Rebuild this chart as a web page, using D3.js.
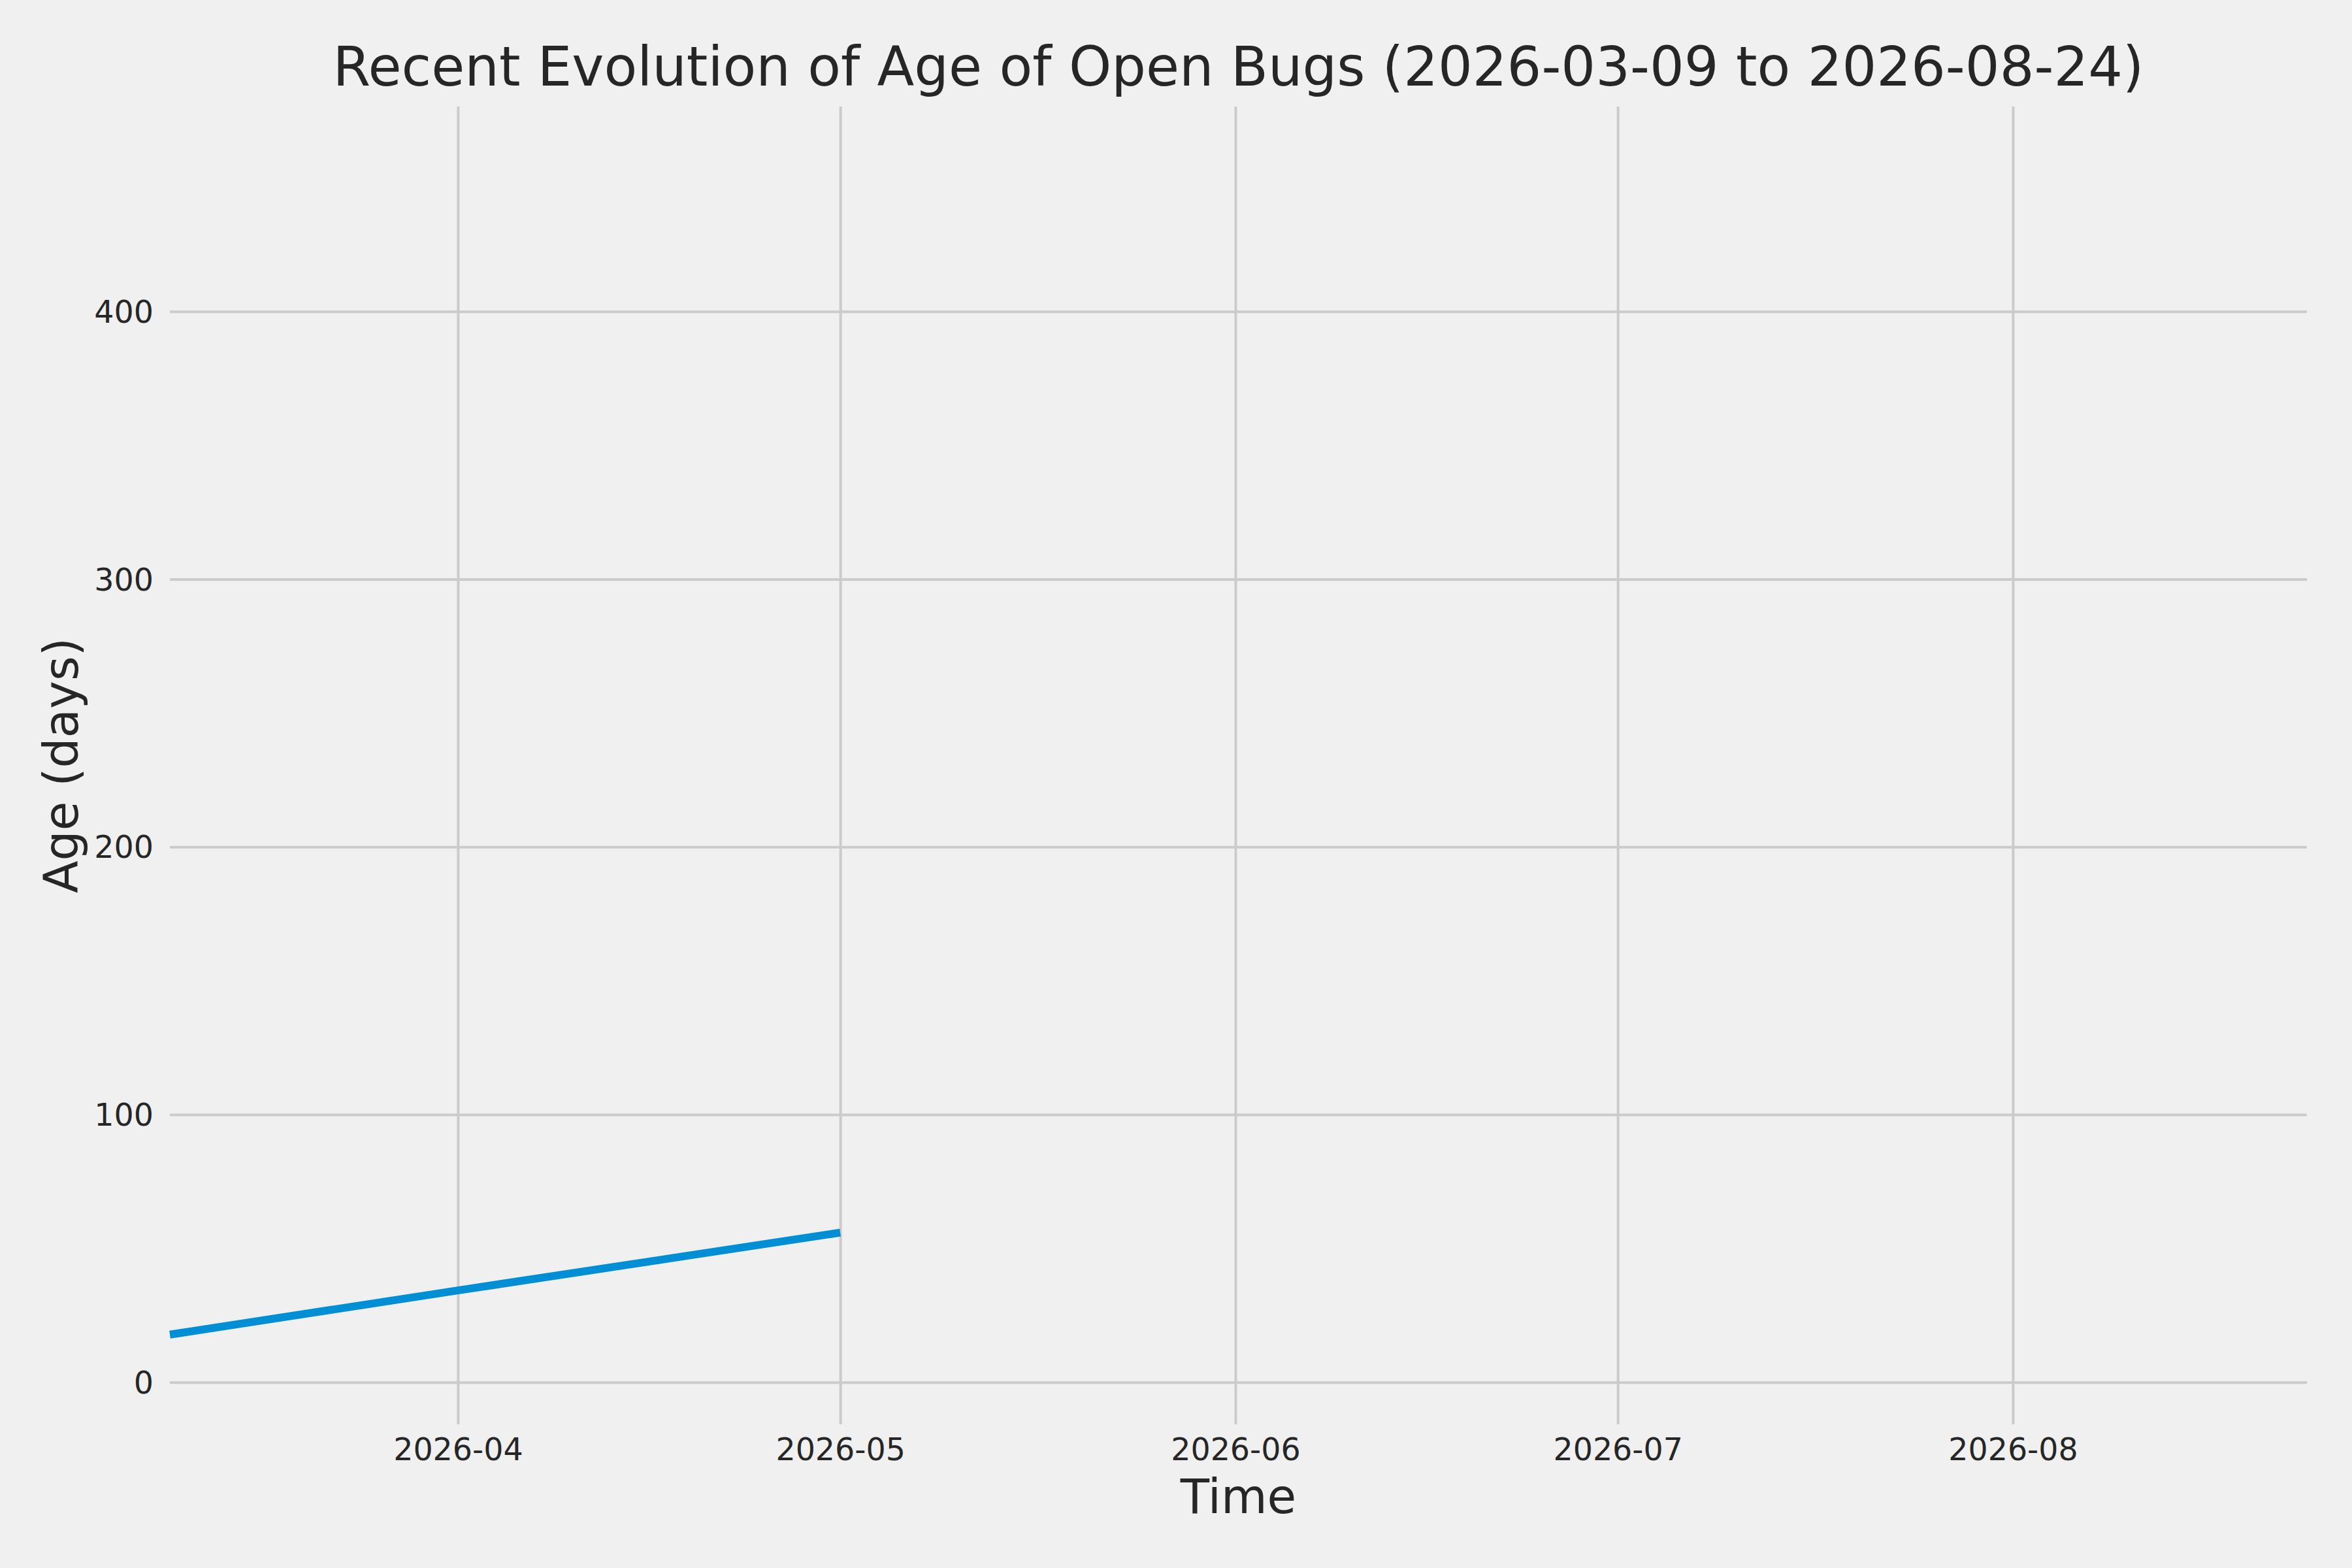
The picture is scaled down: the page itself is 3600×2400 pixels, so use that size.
<!DOCTYPE html>
<html>
<head>
<meta charset="utf-8">
<script src="https://cdn.jsdelivr.net/npm/d3@7"></script>
<style>
  body { margin: 0; background: #f0f0f0; }
  svg { display: block; font-family: "DejaVu Sans", sans-serif; }
</style>
</head>
<body>
<div id="chart"></div>
<script>
// Data
const dates = ["2026-03-09T09:36", "2026-04-01T00:00", "2026-05-01T00:00"];
const ages = [17.8, 34.3, 55.9];
const yTicks = [0, 100, 200, 300, 400];
const xRange = ["2026-03-09T09:36", "2026-08-24T01:40"];
const yRange = [-15.7, 476.6];
const titleText = "Recent Evolution of Age of Open Bugs (2026-03-09 to 2026-08-24)";

const width = 3600;
const height = 2400;
const margin = { top: 163, right: 69, bottom: 220, left: 260 };
const innerW = width - margin.left - margin.right;
const innerH = height - margin.top - margin.bottom;

const parse = d3.timeParse("%Y-%m-%dT%H:%M");
const points = dates.map((d, i) => ({ date: parse(d), age: ages[i] }));

const svg = d3.select("#chart")
  .append("svg")
  .attr("width", width)
  .attr("height", height);

svg.append("rect")
  .attr("width", width)
  .attr("height", height)
  .attr("fill", "#f0f0f0");

const x = d3.scaleTime()
  .domain(xRange.map(parse))
  .range([0, innerW]);

const y = d3.scaleLinear()
  .domain(yRange)
  .range([innerH, 0]);

const g = svg.append("g")
  .attr("transform", `translate(${margin.left},${margin.top})`);

// x axis with gridlines (month ticks)
const xAxis = g.append("g")
  .call(d3.axisBottom(x)
    .ticks(d3.timeMonth.every(1))
    .tickFormat(d3.timeFormat("%Y-%m"))
    .tickSizeOuter(0));
xAxis.select(".domain").remove();
xAxis.selectAll(".tick line")
  .attr("y1", 0)
  .attr("y2", innerH)
  .attr("stroke", "#cbcbcb")
  .attr("stroke-width", 4);
xAxis.selectAll(".tick text")
  .attr("y", innerH + 55)
  .attr("dy", 0)
  .attr("fill", "#262626")
  .attr("font-size", 47.5)
  .attr("font-family", "DejaVu Sans")
  .attr("text-anchor", "middle");

// y axis with gridlines
const yAxis = g.append("g")
  .call(d3.axisLeft(y)
    .tickValues(yTicks)
    .tickSize(-innerW)
    .tickSizeOuter(0));
yAxis.select(".domain").remove();
yAxis.selectAll(".tick line")
  .attr("stroke", "#cbcbcb")
  .attr("stroke-width", 4);
yAxis.selectAll(".tick text")
  .attr("x", -25)
  .attr("dy", "0.35em")
  .attr("fill", "#262626")
  .attr("font-size", 47.5)
  .attr("font-family", "DejaVu Sans");

// series line
const line = d3.line()
  .x((d) => x(d.date))
  .y((d) => y(d.age));

g.append("path")
  .datum(points)
  .attr("fill", "none")
  .attr("stroke", "#008fd5")
  .attr("stroke-width", 12)
  .attr("d", line);

// title and axis labels
svg.append("text")
  .attr("x", margin.left + innerW / 2)
  .attr("y", 131)
  .attr("text-anchor", "middle")
  .attr("fill", "#262626")
  .attr("font-size", 83)
  .text(titleText);

svg.append("text")
  .attr("x", margin.left + innerW / 2)
  .attr("y", 2316)
  .attr("text-anchor", "middle")
  .attr("fill", "#262626")
  .attr("font-size", 72.5)
  .text("Time");

svg.append("text")
  .attr("transform", `translate(119,${margin.top + innerH / 2}) rotate(-90)`)
  .attr("text-anchor", "middle")
  .attr("fill", "#262626")
  .attr("font-size", 72.5)
  .text("Age (days)");
</script>
</body>
</html>
